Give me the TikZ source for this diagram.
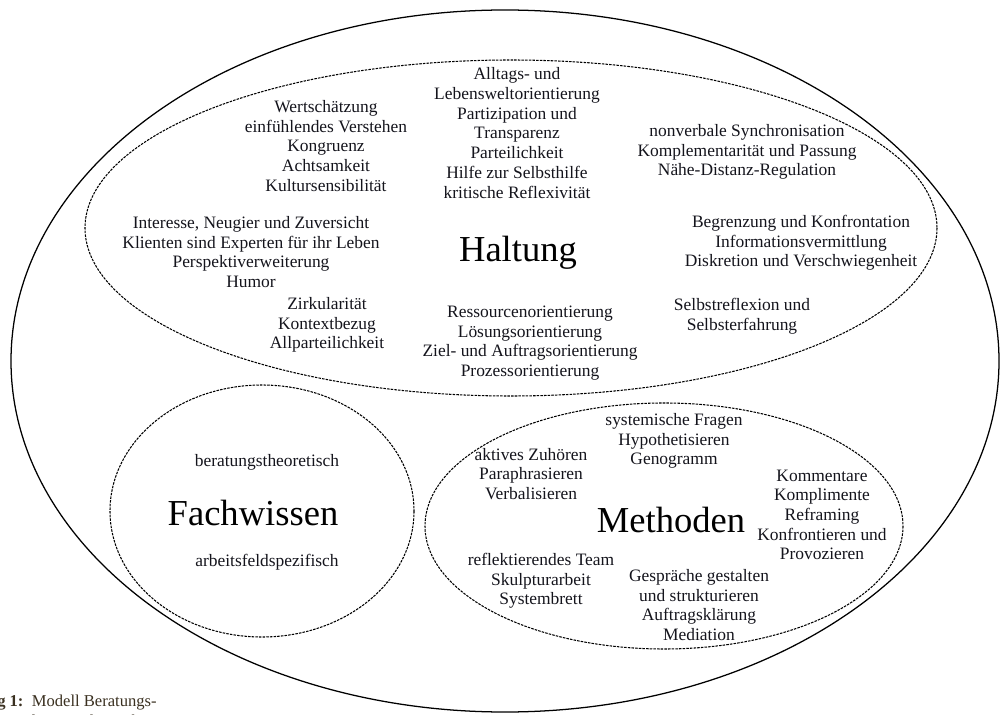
\documentclass[tikz,border=0pt]{standalone}
\usepackage{fontspec}
\setmainfont{Liberation Serif}
\usepackage{xcolor}
\definecolor{tx}{HTML}{14141c}
\definecolor{cap}{HTML}{3a3020}

\begin{document}
\begin{tikzpicture}[x=0.025cm,y=-0.025cm,
    item/.style={align=center,inner sep=0pt,text=tx,font=\fontsize{12.4}{14}\selectfont},
    titel/.style={inner sep=0pt,text=black,font=\fontsize{26}{30}\selectfont},
    rand/.style={line width=0.75pt,dash pattern=on 1.8pt off 0.8pt}]
            \useasboundingbox (0,0) rectangle (1000,715);
            \clip (0,0) rectangle (1000,715);
            % Ellipsen
            \draw[line width=0.9pt] (505,361) ellipse [x radius=494, y radius=351];
            \draw[rand] (511,228) ellipse [x radius=426, y radius=168];
            \draw[rand] (262,511) ellipse [x radius=152, y radius=126];
            \draw[rand] (664,526) ellipse [x radius=239, y radius=123];
            % Haltung
            \node[titel] (haltung) at (518,253) {Haltung};
            \node[item] (alltag) at (517,133) {Alltags- und\\Lebensweltorientierung\\Partizipation und\\Transparenz\\Parteilichkeit\\Hilfe zur Selbsthilfe\\kritische Reflexivität};
            \node[item] (wert) at (326,146) {Wertschätzung\\einfühlendes Verstehen\\Kongruenz\\Achtsamkeit\\Kultursensibilität};
            \node[item] (nonverb) at (747,152) {nonverbale Synchronisation\\Komplementarität und Passung\\Nähe-Distanz-Regulation};
            \node[item] (interesse) at (251,252) {Interesse, Neugier und Zuversicht\\Klienten sind Experten für ihr Leben\\Perspektiverweiterung\\Humor};
            \node[item] (zirk) at (327,325) {Zirkularität\\Kontextbezug\\Allparteilichkeit};
            \node[item] (begr) at (801,243) {Begrenzung und Konfrontation\\Informationsvermittlung\\Diskretion und Verschwiegenheit};
            \node[item] (selbst) at (742,316) {Selbstreflexion und\\Selbsterfahrung};
            \node[item] (ressource) at (530,343) {Ressourcenorientierung\\Lösungsorientierung\\Ziel- und Auftragsorientierung\\Prozessorientierung};
            % Fachwissen
            \node[titel] (fach) at (253,513) {Fachwissen};
            \node[item] (theorie) at (267,462) {beratungstheoretisch};
            \node[item] (feld) at (267,562) {arbeitsfeldspezifisch};
            % Methoden
            \node[titel] (methoden) at (671,520) {Methoden};
            \node[item] (fragen) at (674,441) {systemische Fragen\\Hypothetisieren\\Genogramm};
            \node[item] (zuhoeren) at (531,474) {aktives Zuhören\\Paraphrasieren\\Verbalisieren};
            \node[item] (komm) at (822,515) {Kommentare\\Komplimente\\Reframing\\Konfrontieren und\\Provozieren};
            \node[item] (team) at (541,581) {reflektierendes Team\\Skulpturarbeit\\Systembrett};
            \node[item] (gespraech) at (699,605) {Gespräche gestalten\\und strukturieren\\Auftragsklärung\\Mediation};
            % Bildunterschrift
            \node[anchor=north east,align=right,inner sep=0pt,text=cap,font=\fontsize{11.8}{14}\selectfont] (caption) at (157,695) {\textbf{Abbildung 1:}\ \ Modell Beratungs-\\kompetenz in der Sozialen Arbeit};
          \end{tikzpicture}
\end{document}
